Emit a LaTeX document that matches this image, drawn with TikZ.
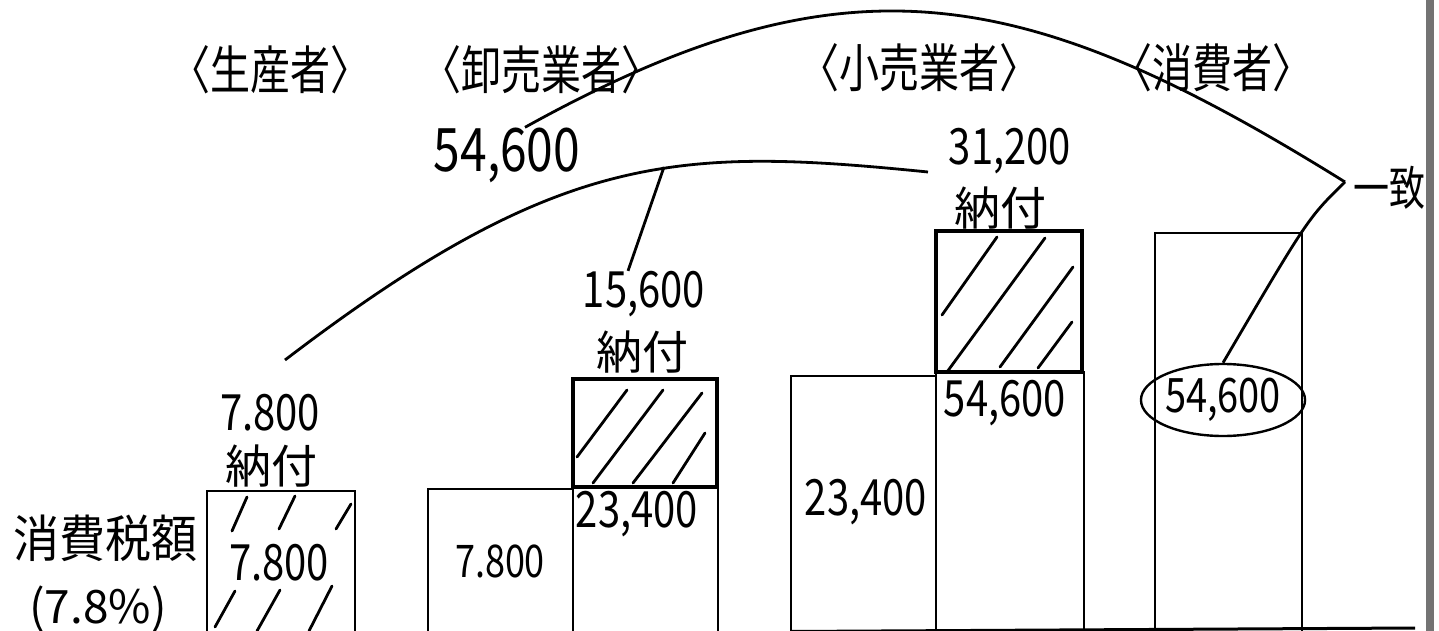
\documentclass[tikz,border=0pt]{standalone}
\usepackage{fontspec}
\setmainfont{Noto Sans CJK JP}
\usepackage{tikz}
\usetikzlibrary{shapes.geometric}
\newcommand{\tallt}[2][1.25]{\scalebox{1}[#1]{#2}}

\begin{document}
\begin{tikzpicture}[x=1pt, y=-1pt,
  box/.style={line width=2.2pt},
  paybox/.style={line width=3.6pt},
  hatch/.style={line width=2.8pt, line cap=round},
  curve/.style={line width=2.8pt},
  head/.style={inner sep=0pt, font=\fontsize{40}{44}\selectfont},
  num/.style={inner sep=0pt, font=\fontsize{40}{44}\selectfont},
  jp/.style={inner sep=0pt, font=\fontsize{46}{50}\selectfont}]

\useasboundingbox (0,0) rectangle (1439,631);

% scan edge
\fill[black!55] (1426,0) rectangle (1434,631);

% base line
\draw[line width=3pt] (791,631.5) -- (1415,628);

%
% Headers
%
\path (270,70) node[head] (h_prod) {\tallt[1.3]{〈生産者〉}};
\path (541,70) node[head] (h_whole) {\tallt[1.3]{〈卸売業者〉}};
\path (919,68) node[head] (h_retail) {\tallt[1.3]{〈小売業者〉}};
\path (1212,68) node[head] (h_cons) {\tallt[1.3]{〈消費者〉}};

%
% Producer
%
\path (105,538) node[jp] (tax_lbl) {\tallt[1.1]{消費税額}};
\path (98,609) node[jp] (tax_rate) {(7.8\%)};

\draw[box, line width=2.6pt] (207,631) |- (355,491) -- (355,631);

% hatching
\draw[hatch] (247,497) -- (232,531);
\draw[hatch] (295,496) -- (279,529);
\draw[hatch] (351,504) -- (336,529);
\draw[hatch] (235,591) -- (215,627);
\draw[hatch] (280,590) -- (257,631);
\draw[hatch] (332,586) -- (309,631);

\path (270,413) node[num] (p_amt) {\tallt{7.800}};
\path (271,466) node[jp] (p_pay) {納付};
\path (279,563) node[num] (p_tax) {\tallt{7.800}};

%
% Wholesaler
%
\draw[box] (428,631) |- (573,489);
\draw[box] (573,631) |- (718,487) -- (718,631);
\draw[paybox] (573,379) rectangle (717,487);

% hatching
\draw[hatch] (627,390) -- (577,457);
\draw[hatch] (663,390) -- (593,483);
\draw[hatch] (702,393) -- (633,483);
\draw[hatch] (705,433) -- (673,483);

\path (644,294) node[num] (w_amt) {\tallt{15,600}};
\path (642,352) node[jp] (w_pay) {納付};
\path (500,561) node[num, font=\fontsize{36}{40}\selectfont] (w_in) {\tallt{7.800}};
\path (637,514) node[num] (w_sum) {\tallt{23,400}};

%
% Retailer
%
\draw[box] (791,631) |- (936,376);
\draw[box] (936,631) |- (1084,372) -- (1084,631);
\draw[paybox] (936,231) rectangle (1082,372);

% hatching
\draw[hatch] (997,237) -- (942,315);
\draw[hatch] (1045,238) -- (947,372);
\draw[hatch] (1073,267) -- (1000,367);
\draw[hatch] (1072,322) -- (1038,368);

\path (1010,151) node[num] (r_amt) {\tallt{31,200}};
\path (1000,208) node[jp] (r_pay) {納付};
\path (866,502) node[num] (r_in) {\tallt{23,400}};
\path (1005,403) node[num] (r_sum) {\tallt{54,600}};

%
% Consumer
%
\draw[box] (1155,631) |- (1302,233) -- (1302,631);

\path (1223,400) node[ellipse, draw, line width=2.4pt, inner sep=0pt,
  minimum width=138pt, minimum height=72pt,
  font=\fontsize{38}{42}\selectfont] (c_sum) {\tallt{54,600}};

%
% Totals
%
\path (507,155) node[num, font=\fontsize{48}{52}\selectfont] (t_amt) {\tallt{54,600}};
\path (1389,188) node[jp, font=\fontsize{36}{40}\selectfont] (match_lbl) {\tallt[1.3]{一致}};

\coordinate (match) at (1345,182);
\coordinate (arcL) at (285,360);
\coordinate (arcR) at (928,172);
\coordinate (arcP) at (664,167);

% sum of the payments
\draw[curve] (arcL) .. controls (560,150) and (679,147) .. (arcR);
\draw[curve] (arcP) -- ([xshift=-16pt]w_amt.north);

% equals the consumer's tax
\draw[curve] ([xshift=18pt]t_amt.north) .. controls (845,-50) and (1022,-19) .. (match);
\draw[curve] (match) .. controls (1308,218) .. (c_sum.north);

\end{tikzpicture}
\end{document}
